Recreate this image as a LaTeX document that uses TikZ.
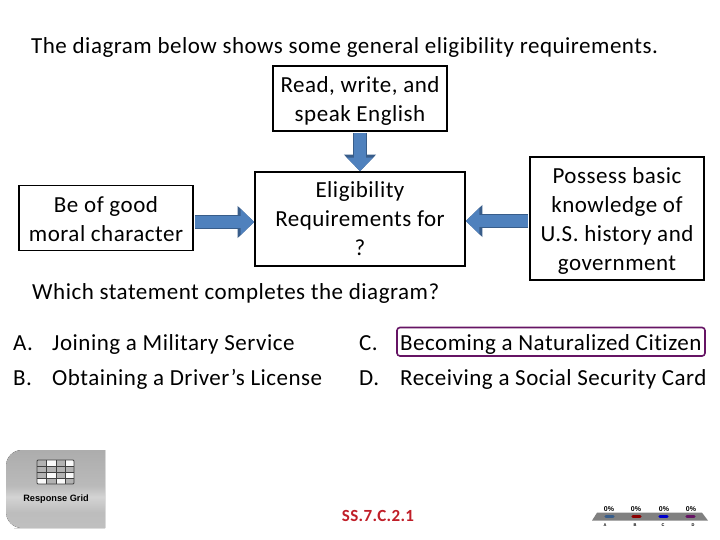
\documentclass[tikz,border=0pt]{standalone}
\usepackage{fontspec}
\setmainfont[LetterSpace=2.2,Ligatures=NoCommon]{Carlito}
\newfontfamily\hv{Liberation Sans}
\usetikzlibrary{arrows.meta,shadings}
\definecolor{arrowfill}{RGB}{79,129,189}
\definecolor{arrowline}{RGB}{56,93,138}
\definecolor{hl}{RGB}{102,20,100}
\definecolor{stdred}{RGB}{192,30,40}
\newcommand\dropline[1]{\rule{0pt}{#1}}
\pgfdeclareverticalshading{buttonshade}{100bp}{
 color(0bp)=(black!22); color(35bp)=(black!26); color(45bp)=(black!17); color(52bp)=(black!27); color(100bp)=(black!38)}
\tikzset{
 txt/.style={font=\fontsize{23}{29}\selectfont,inner sep=0pt,align=center},
 lefttxt/.style={txt,anchor=base west,align=left},
 boxn/.style={txt,draw=black,line width=1.6pt,fill=white},
 outerarrow/.style={draw=arrowline,line width=14.5pt,-{Triangle[length=16.5pt,width=31pt]}},
 innerarrow/.style={draw=arrowfill,line width=12pt,-{Triangle[length=13.5pt,width=25pt]}},
 tinylab/.style={font=\hv\bfseries\fontsize{7}{7}\selectfont,inner sep=0pt},
 tinierlab/.style={font=\hv\bfseries\fontsize{4}{4}\selectfont,inner sep=0pt},
 barmark/.style={line width=3.4pt,line cap=round},
}
\begin{document}
\begin{tikzpicture}[x=1pt,y=-1pt]
\useasboundingbox (0,0) rectangle (720,540);
\fill[white] (0,0) rectangle (720,540);
\node[lefttxt] (title) at (31,54) {The diagram below shows some general eligibility requirements.};
\node[boxn,minimum width=174pt,minimum height=65pt] (top) at (360,98.5) {\dropline{20pt}Read, write, and\\speak English};
\node[boxn,minimum width=210pt,minimum height=94pt] (center) at (360,219) {Eligibility\\Requirements for\\?};
\node[boxn,minimum width=174pt,minimum height=65pt] (left) at (106,218) {\dropline{19pt}Be of good\\moral character};
\node[boxn,minimum width=174pt,minimum height=123pt] (right) at (617,218.5) {\dropline{20.5pt}Possess basic\\knowledge of\\U.S. history and\\government};
\foreach \st in {outerarrow,innerarrow}{
 \draw[\st,shorten <=1pt] (top.south) -- (center.north);
 \draw[\st,shorten <=1pt] (left.east) ++(0,4) coordinate (lfrom) -- (lfrom -| center.west);
 \draw[\st,shorten <=1pt] (right.west) ++(0,2.5) coordinate (rfrom) -- (rfrom -| center.east);
}
\node[lefttxt] (ask) at (32,299) {Which statement completes the diagram?};
\node[lefttxt] (a1) at (13,350) {A.};
\node[lefttxt] (a2) at (52,350) {Joining a Military Service};
\node[lefttxt] (b1) at (13,385) {B.};
\node[lefttxt] (b2) at (52,385) {Obtaining a Driver’s License};
\node[lefttxt] (c1) at (359,350) {C.};
\node[lefttxt] (c2) at (400,350) {Becoming a Naturalized Citizen};
\node[lefttxt] (d1) at (359,385) {D.};
\node[lefttxt] (d2) at (400,385) {Receiving a Social Security Card};
\draw[hl,line width=1.6pt,rounded corners=3pt] (397,327.5) rectangle (705,356);
% response grid button
\fill[shading=buttonshade,rounded corners=16pt] (105,450) -- (6,450) -- (6,528) -- (30,528) [sharp corners] -- (105,528) -- cycle;
\fill[black!30] (37,460) rectangle (74,484);
\foreach \x/\y in {47/460,65/460,47/472,65/472,37/478,56/478}{\fill[white!95!gray] (\x,\y) rectangle ++(9,6);}
\draw[black!75,line width=0.9pt,rounded corners=1pt] (37,460) rectangle (74,484);
\foreach \x in {46.5,56,65}{\draw[black!75,line width=0.7pt] (\x,460) -- (\x,484);}
\foreach \y in {466,472,478}{\draw[black!75,line width=0.7pt] (37,\y) -- (74,\y);}
\node[font=\hv\bfseries\fontsize{9.2}{9}\selectfont,inner sep=0pt] (grid) at (56,499.5) {Response Grid};
\node[font=\bfseries\fontsize{17}{18}\selectfont,text=stdred,inner sep=0pt] (std) at (378,516) {SS.7.C.2.1};
% mini chart
\fill[black!50] (592,520.6) -- (597,512.7) -- (702,512.7) -- (708,520.6) -- cycle;
\draw[barmark,draw=arrowline] (606,516.5) -- (613,516.5);
\draw[barmark,draw=red!55!black] (633,516.5) -- (640,516.5);
\draw[barmark,draw=blue!80!black] (660,516.5) -- (667,516.5);
\draw[barmark,draw=hl] (687,516.5) -- (694,516.5);
\foreach \n/\x/\lx/\l in {p/609/605/A,q/636/635/B,r/664/663/C,s/691/693/D}{
 \node[tinylab] (\n) at (\x,509) {0\%};
 \node[tinierlab] (l\n) at (\lx,525.5) {\l};
}
\end{tikzpicture}
\end{document}
